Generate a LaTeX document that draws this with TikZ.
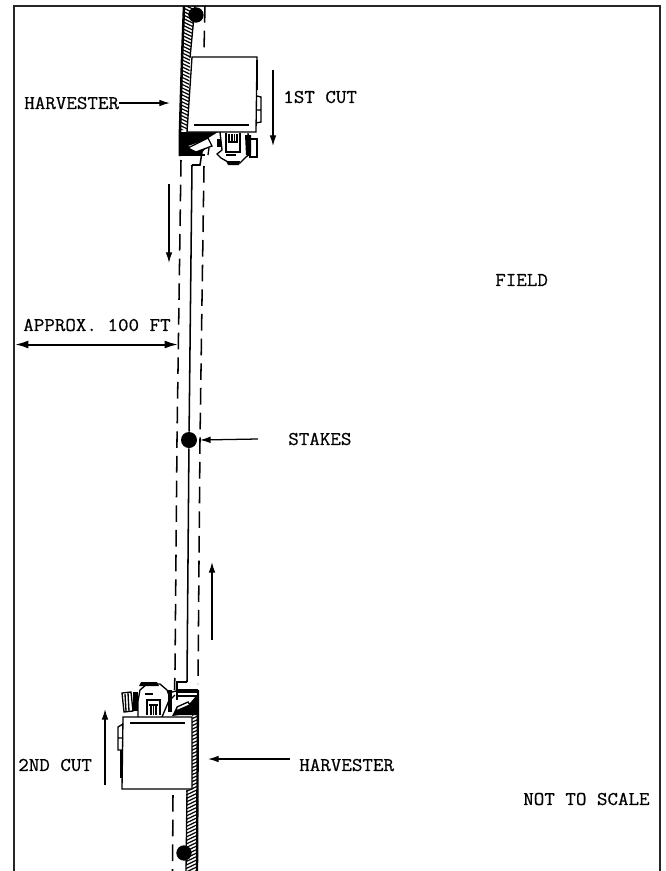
\documentclass[tikz,border=0pt]{standalone}
\usepackage{fontspec}
\newfontfamily\lblfont[FakeBold=0.6]{Latin Modern Mono}
\usetikzlibrary{arrows.meta}
\tikzset{
  lbl/.style={font=\lblfont\fontsize{14.6}{16}\selectfont,inner sep=0pt,anchor=west,xscale=1.05,transform shape},
  frameline/.style={line width=1.4pt,black!85},
  guide/.style={line width=1.15pt,dash pattern=on 12.5pt off 6pt},
  solidline/.style={line width=1.15pt},
  flow/.style={line width=0.95pt,-{Latex[length=8pt,width=5pt]}},
  dim/.style={line width=1.5pt,{Latex[length=10pt,width=6pt]}-{Latex[length=10pt,width=6pt]}},
  stake/.style={fill=black,draw=none},
  machine/.style={line width=1pt,fill=white},
  ink/.style={fill=black,draw=none},
  detail/.style={line width=1pt}
}
\begin{document}
\begin{tikzpicture}[x=0.75pt,y=-0.75pt]
\useasboundingbox (0,0) rectangle (665,871);
% frame
\draw[frameline] (14,871) -- (14,6) -- (660,6) -- (660,871);

% hatched strip, top
\begin{scope}
\clip (184,6) -- (195,6) -- (190,60) -- (188,130) -- (181,130) -- (181,60) -- cycle;
\foreach \k in {-10,-6.5,...,150} \draw[line width=0.9pt] (175,\k) -- (200,\k+12);
\end{scope}
\draw[line width=1.9pt] (184,6) -- (182,60) -- (180,130) -- (180,156);
\draw[line width=1pt] (195,6) -- (190,58);

% hatched strip, bottom
\begin{scope}
\clip (192,715) -- (197,715) -- (197,871) -- (186,871) -- (186,790) -- (192,785) -- cycle;
\foreach \k in {700,703.5,...,880} \draw[line width=0.9pt] (180,\k) -- (205,\k-12);
\end{scope}
\draw[line width=1.8pt] (198,690) -- (197,871);
\draw[line width=1pt] (187,790) -- (186,871);

% guide lines
\coordinate (gl1) at (181,160); \coordinate (gl2) at (179,300); \coordinate (gl3) at (177,440); \coordinate (gl4) at (175,670); \coordinate (gl5) at (174.5,690);
\draw[guide] (gl1) -- (gl2) -- (gl3) -- (gl4) -- (gl5);
\draw[guide] (173,795) -- (172.5,871);
\coordinate (gr0) at (205,6); \coordinate (gr00) at (204,50);
\draw[guide] (gr0) -- (gr00);
\coordinate (gr1) at (204,166); \coordinate (gr2) at (202,300); \coordinate (gr3) at (200,440); \coordinate (gr4) at (198,684);
\draw[guide] (gr1) -- (gr2) -- (gr3) -- (gr4);

% stakes
\node[stake,circle,minimum size=11.5pt,inner sep=0pt] (stakeA) at (196,15) {};
\node[stake,circle,minimum size=12pt,inner sep=0pt] (stakeB) at (189,440) {};
\node[stake,circle,minimum size=11.5pt,inner sep=0pt] (stakeC) at (184,853) {};
\coordinate (cutTop) at (192,165);
\coordinate (cutBot) at (187,682);
\draw[solidline] (cutTop) -- (stakeB) -- (cutBot);
\draw[solidline] (cutTop) -- (200,165) -- (202,152);
\draw[solidline] (cutBot) -- (177,682) -- (177,693);

% upper harvester: header and tractor
\fill[ink] (181,132) -- (218,132) -- (205,140) -- (188,146) -- (198,150) -- (206,148) -- (200,155) -- (180,155) -- cycle;
\draw[detail,fill=white] (188,148) -- (208,138) -- (212,146) -- (196,152) -- cycle;
\draw[line width=1.6pt] (180,155) -- (205,155);
\draw[detail] (208,155) -- (209,148);
\draw[detail,fill=white] (220,132) -- (222,150) -- (217,154) -- (221,158) -- (228,162) -- (240,163) -- (246,157) -- (250,154) -- (248,133);
\fill[ink] (226,161) -- (240,161) -- (239,165) -- (228,165) -- cycle;
\draw[detail] (226,133) -- (226,152) -- (240,152) -- (240,133);
\draw[detail] (229,134) -- (229,142) -- (237,142) -- (237,134);
\draw[line width=1.2pt] (226,155) -- (236,155);
\draw[detail] (232,134) -- (232,142) (234.5,134) -- (234.5,142);
\draw[detail,fill=white] (250,139) rectangle (257,157);
\fill[ink] (245,135) -- (251,135) -- (251,155) -- (246,155) -- cycle;
\fill[ink] (217,139) rectangle (221,147);

% upper box
\draw[machine] (192,57) -- (257,57) -- (256,132) -- (187,132) -- cycle;
\draw[detail] (194,125) -- (249,125);
\draw[line width=1.5pt] (257,60) -- (257,90);
\draw[detail] (257,96) -- (261,97) -- (261,122) -- (256,123) (257,110) -- (261,110);

% lower harvester: header and tractor
\fill[ink] (198,696) -- (197,715) -- (180,715) -- (172,716) -- (176,708) -- (190,703) -- (196,696) -- cycle;
\draw[detail,fill=white] (177,707) -- (188,702) -- (190,705) -- (176,711) -- cycle;
\fill[ink] (177,689) rectangle (198,693);
\draw[detail] (177,693) -- (177,700) (198,696) -- (178,696);
\draw[detail,fill=white] (138,717) -- (138,701) -- (140,690) -- (147,684) -- (160,684) -- (167,690) -- (170,698) -- (162,717);
\fill[ink] (141,682) -- (157,682) -- (159,686) -- (139,686) -- cycle;
\draw[detail] (147,715) -- (147,700) -- (160,700) -- (160,715);
\draw[detail] (151,705) -- (151,715) (153.5,705) -- (153.5,715) (156,705) -- (156,715) (149,705) -- (158,705);
\draw[line width=1.2pt] (145,694) -- (153,694);
\draw[detail,fill=white] (122,693) -- (131,692) -- (133,711) -- (124,712) -- cycle;
\draw[detail] (125,694) -- (126,711) (128,693) -- (129,711);
\fill[ink] (133,692) rectangle (138,711);
\fill[ink] (168,690) rectangle (172,712);
\draw[detail] (172,692) -- (176,691);
\draw[detail] (170,700) -- (175,695);

% lower box
\draw[machine] (123,717) -- (192,717) -- (192,789) -- (122,789) -- cycle;
\draw[detail] (130,723) -- (185,723);
\draw[line width=1.5pt] (121,750) -- (121,778);
\draw[detail] (123,724) -- (118,727) -- (118,750) -- (123,750) (118,738) -- (123,738);

% labels
\node[lbl] (harvA) at (24,103) {HARVESTER};
\node[lbl] (cutA) at (283,97) {1ST CUT};
\node[lbl] (field) at (495,280) {FIELD};
\node[lbl] (approx) at (23,325) {APPROX. 100 FT};
\node[lbl] (stakes) at (288,439) {STAKES};
\node[lbl] (cutB) at (18,765) {2ND CUT};
\node[lbl] (harvB) at (299,765) {HARVESTER};
\node[lbl] (noscale) at (523,799) {NOT TO SCALE};

% arrows
\coordinate (harvAtip) at (170,103);
\draw[flow] (harvA.east) -- (harvAtip);
\coordinate (a1s) at (273,70); \coordinate (a1e) at (273,146);
\draw[flow] (a1s) -- (a1e);
\coordinate (a2s) at (169,184); \coordinate (a2e) at (169,263);
\draw[flow] (a2s) -- (a2e);
\coordinate (a3s) at (212,640); \coordinate (a3e) at (212,562);
\draw[flow] (a3s) -- (a3e);
\coordinate (a4s) at (105,785); \coordinate (a4e) at (105,709);
\draw[flow] (a4s) -- (a4e);
\coordinate (stakesfrom) at (258,439);
\draw[flow] (stakesfrom) -- ([xshift=2pt]stakeB.east);
\coordinate (harvBfrom) at (290,759); \coordinate (harvBtip) at (208,759);
\draw[flow] (harvBfrom) -- (harvBtip);
\coordinate (dimL) at (15,344.5); \coordinate (dimR) at (178,344.5);
\draw[dim] (dimL) -- (dimR);
\end{tikzpicture}
\end{document}
